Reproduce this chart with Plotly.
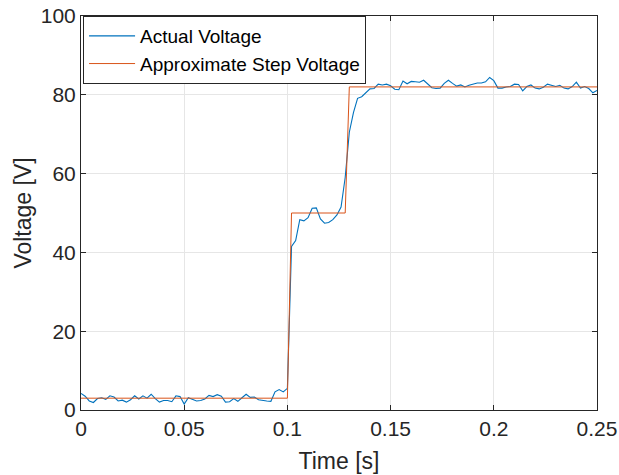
import numpy as np
import plotly.graph_objects as go

dt = 0.002
time_s = [round(i * dt, 3) for i in range(126)]

actual_voltage = [
    4.2, 3.5, 2.3, 1.9, 2.9, 3.1, 2.7, 3.6, 3.3, 2.3,
    2.5, 2.0, 2.6, 3.6, 2.8, 3.6, 3.0, 4.0, 2.9, 2.0,
    2.4, 2.4, 2.1, 3.6, 3.4, 1.5, 3.1, 2.6, 2.3, 2.4,
    2.8, 3.7, 3.4, 3.9, 3.5, 2.0, 2.1, 2.9, 2.2, 3.1,
    4.0, 3.2, 3.3, 2.6, 2.4, 2.3, 2.2, 4.6, 5.2, 4.6,
    5.5, 41.5, 43.0, 48.3, 48.0, 48.8, 51.2, 51.3, 48.5, 47.4,
    47.6, 48.3, 49.5, 51.5, 59.0, 70.5, 75.5, 79.1, 79.5, 80.6,
    81.5, 81.6, 82.7, 82.5, 82.7, 82.3, 81.4, 81.3, 83.5, 82.8,
    83.4, 83.3, 83.2, 83.7, 82.7, 81.8, 81.6, 81.7, 82.9, 83.7,
    82.9, 82.2, 82.5, 82.0, 82.4, 82.7, 83.0, 83.0, 83.3, 84.4,
    83.6, 81.7, 81.7, 82.0, 82.1, 82.7, 82.6, 81.0, 82.1, 82.5,
    81.7, 81.5, 81.9, 82.7, 82.4, 82.1, 82.4, 81.7, 81.5, 82.1,
    83.2, 81.7, 82.1, 81.6, 80.5, 81.1,
]

step_voltage = [3.0] * 51 + [50.0] * 14 + [82.0] * 61

x_tick_vals = [0, 0.05, 0.1, 0.15, 0.2, 0.25]
x_tick_text = ["0", "0.05", "0.1", "0.15", "0.2", "0.25"]
y_tick_vals = [0, 20, 40, 60, 80, 100]
y_tick_text = ["0", "20", "40", "60", "80", "100"]

FONT = "Liberation Sans, Arial, Helvetica, sans-serif"
AX = "#262626"

fig = go.Figure()
fig.add_trace(go.Scatter(x=time_s, y=actual_voltage, mode="lines",
                         name="Actual Voltage",
                         line=dict(color="#0072BD", width=1.1)))
fig.add_trace(go.Scatter(x=time_s, y=step_voltage, mode="lines",
                         name="Approximate Step Voltage",
                         line=dict(color="#D95319", width=1)))

axis_common = dict(showline=True, linecolor=AX, linewidth=1, mirror="ticks",
                   ticks="inside", ticklen=5, tickcolor=AX, automargin=False,
                   showgrid=True, gridcolor="#e6e6e6", gridwidth=1,
                   zeroline=False, tickfont=dict(size=21, color=AX, family=FONT))

fig.update_xaxes(range=[0, 0.25], tickvals=x_tick_vals, ticktext=x_tick_text,
                 title=dict(text="Time [s]", font=dict(size=23, color=AX, family=FONT), standoff=13),
                 **axis_common)
fig.update_yaxes(range=[0, 100], tickvals=y_tick_vals, ticktext=y_tick_text,
                 title=dict(text="Voltage [V]", font=dict(size=23, color=AX, family=FONT), standoff=2),
                 **axis_common)

fig.update_layout(
    width=619, height=475,
    margin=dict(l=81, r=22, t=16, b=65, autoexpand=False),
    paper_bgcolor="white", plot_bgcolor="white",
    font=dict(family=FONT, color=AX),
    showlegend=True,
    legend=dict(x=0.004, y=1, xanchor="left", yanchor="top",
                bgcolor="white", bordercolor=AX, borderwidth=1,
                font=dict(size=19, color="#000000", family=FONT),
                itemwidth=46, tracegroupgap=0),
)

fig.write_html("out.html")
